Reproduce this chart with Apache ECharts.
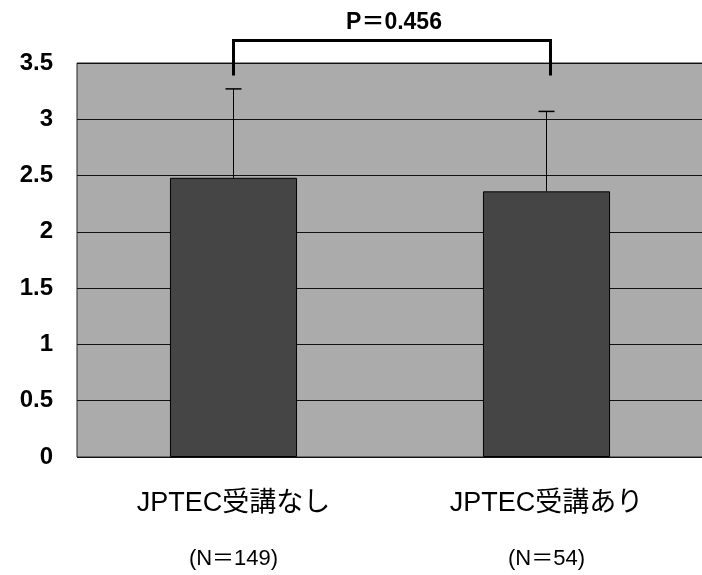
<!DOCTYPE html>
<html>
<head>
<meta charset="utf-8">
<script src="https://cdn.jsdelivr.net/npm/echarts@6/dist/echarts.min.js"></script>
<style>
  html, body { margin: 0; padding: 0; background: #fff; }
  #chart { width: 702px; height: 575px; }
</style>
</head>
<body>
<div id="chart"></div>
<script>
// データ
const categories = ['JPTEC受講なし', 'JPTEC受講あり'];
const sampleSizes = ['(N＝149)', '(N＝54)'];
const means = [2.48, 2.36];
const errorTops = [3.27, 3.07];
const yTicks = [0, 0.5, 1, 1.5, 2, 2.5, 3, 3.5];
const pLabel = 'P＝0.456';
const bracketTop = 3.7;
const bracketLeg = 3.39;

const chart = echarts.init(document.getElementById('chart'));

const option = {
  animation: false,
  grid: {
    left: 77,
    right: -1,
    top: 63,
    bottom: 118,
    outerBoundsMode: 'none',
    containLabel: false,
    show: true,
    backgroundColor: '#ababab',
    borderColor: '#222',
    borderWidth: 1
  },
  xAxis: {
    type: 'category',
    data: categories,
    axisLine: { show: false },
    axisTick: { show: false },
    axisLabel: {
      margin: 32,
      formatter: function (value, idx) {
        return '{c|' + value + '}\n{n|' + sampleSizes[idx] + '}';
      },
      rich: {
        c: {
          fontSize: 27,
          color: '#000',
          fontFamily: 'Liberation Sans, Noto Sans CJK JP, sans-serif',
          lineHeight: 30
        },
        n: {
          fontSize: 22,
          color: '#000',
          fontFamily: 'Liberation Sans, Noto Sans CJK JP, sans-serif',
          lineHeight: 80
        }
      }
    }
  },
  yAxis: {
    type: 'value',
    min: 0,
    max: 3.5,
    interval: 0.5,
    axisLine: { show: false },
    axisTick: { show: false },
    axisLabel: {
      margin: 24,
      fontSize: 24,
      fontWeight: 'bold',
      color: '#000',
      fontFamily: 'Liberation Sans, Arial, sans-serif',
      formatter: function (v) {
        return yTicks.indexOf(v) >= 0 ? String(v) : '';
      }
    },
    splitLine: { lineStyle: { color: '#111', width: 1 } }
  },
  series: [
    {
      type: 'bar',
      data: means,
      barWidth: '40.6%',
      itemStyle: {
        color: '#454545',
        borderColor: '#000',
        borderWidth: 1
      },
      z: 2
    },
    {
      // エラーバー（上側のみ）
      type: 'custom',
      data: means.map((m, i) => [i, m, errorTops[i]]),
      z: 3,
      renderItem: function (params, api) {
        const base = api.coord([api.value(0), api.value(1)]);
        const top = api.coord([api.value(0), api.value(2)]);
        const cap = 8;
        return {
          type: 'group',
          children: [
            {
              type: 'line',
              shape: { x1: base[0], y1: base[1], x2: top[0], y2: top[1] },
              style: { stroke: '#000', lineWidth: 1 }
            },
            {
              type: 'line',
              shape: { x1: top[0] - cap, y1: top[1], x2: top[0] + cap, y2: top[1] },
              style: { stroke: '#000', lineWidth: 1.5 }
            }
          ]
        };
      }
    },
    {
      // 有意差ブラケット
      type: 'custom',
      data: [[0, 1]],
      clip: false,
      z: 4,
      renderItem: function (params, api) {
        const a = api.coord([api.value(0), bracketTop]);
        const b = api.coord([api.value(1), bracketTop]);
        const aLeg = api.coord([api.value(0), bracketLeg]);
        const bLeg = api.coord([api.value(1), bracketLeg]);
        return {
          type: 'group',
          children: [
            {
              type: 'polyline',
              shape: { points: [[aLeg[0], aLeg[1]], [a[0], a[1]], [b[0] + 4, b[1]], [b[0] + 4, bLeg[1]]] },
              style: { stroke: '#000', lineWidth: 3, fill: null }
            },
            {
              type: 'text',
              x: (a[0] + b[0]) / 2 + 4,
              y: a[1] - 18,
              style: {
                text: pLabel,
                fill: '#000',
                font: 'bold 23px Liberation Sans, Noto Sans CJK JP, sans-serif',
                align: 'center',
                verticalAlign: 'middle'
              }
            }
          ]
        };
      }
    }
  ]
};

chart.setOption(option);
</script>
</body>
</html>
